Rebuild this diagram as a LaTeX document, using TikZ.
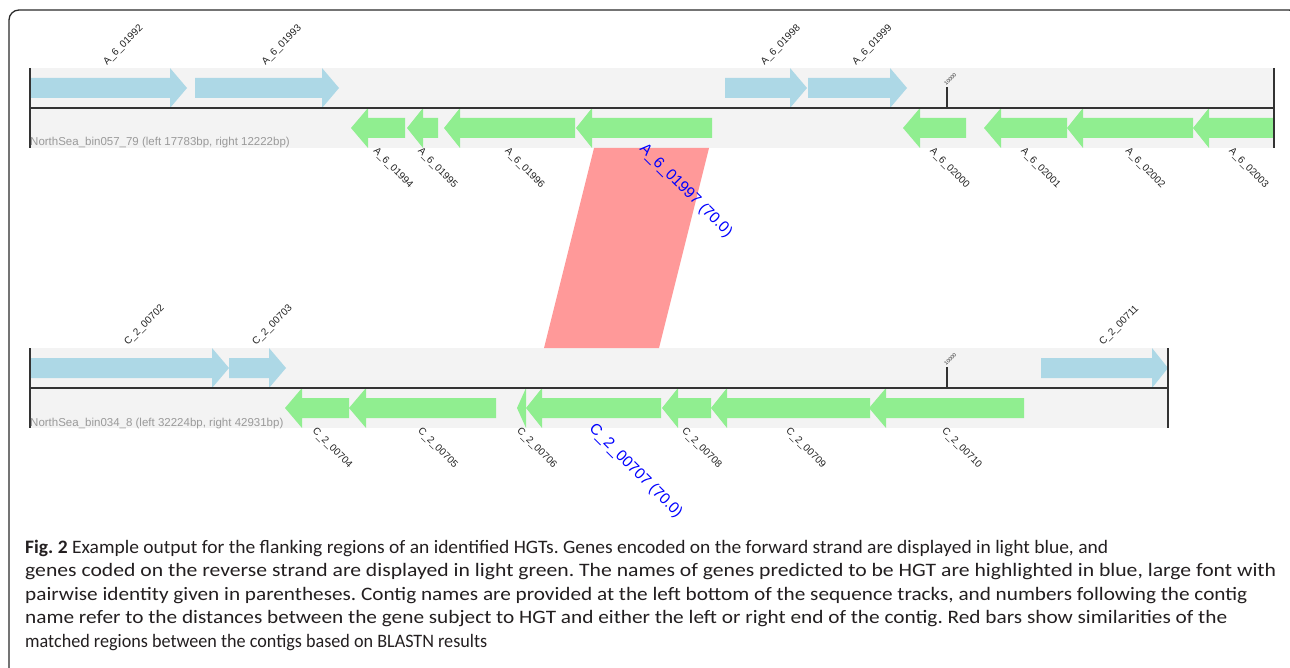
\documentclass[tikz,border=0pt]{standalone}
\usepackage{graphicx}
\usepackage{fontspec}
\setmainfont{Carlito}
\newfontfamily\genefont{Liberation Sans}
\frenchspacing

\definecolor{fwdblue}{HTML}{ADD8E6}
\definecolor{revgreen}{HTML}{90EE90}
\definecolor{bandgray}{HTML}{F3F3F3}
\definecolor{axisgray}{HTML}{333333}
\definecolor{labelgray}{HTML}{222222}
\definecolor{contiggray}{HTML}{9A9A9A}
\definecolor{hgtblue}{HTML}{0000FF}
\definecolor{matchred}{HTML}{FF9999}
\definecolor{captext}{HTML}{231F20}
\definecolor{framegray}{HTML}{2A2A2A}

% forward gene: name, start x, head base x, tip x, axis y, label
\newcommand\fgene[6]{%
  \fill[fwd] (#2,#5-30) -- (#3,#5-30) -- (#3,#5-40) -- (#4,#5-20) -- (#3,#5)
    -- (#3,#5-10) -- (#2,#5-10) -- cycle;
  \node[genelabel, rotate=45, anchor=south west] (#1) at ({(#2+#4)/2},#5-40.5) {#6};
}
% reverse gene: name, tip x, head base x, end x, axis y, label, label style
\newcommand\rgene[7]{%
  \fill[rev] (#4,#5+10) -- (#3,#5+10) -- (#3,#5) -- (#2,#5+20) -- (#3,#5+40)
    -- (#3,#5+30) -- (#4,#5+30) -- cycle;
  \node[#7, rotate=-45, anchor=north west] (#1) at ({(#2+#4)/2},#5+38) {#6};
}
% one caption line stretched to a given width
\newcommand\capline[2]{\resizebox{#1}{\height}{#2}}

\begin{document}
\begin{tikzpicture}[x=1pt,y=-1pt,
  fwd/.style={fill=fwdblue},
  rev/.style={fill=revgreen},
  band/.style={fill=bandgray},
  axisline/.style={draw=axisgray, line width=1.3pt},
  endline/.style={draw=axisgray, line width=1.5pt},
  genelabel/.style={font=\genefont\fontsize{10}{12}\selectfont, text=labelgray, inner sep=0.5pt},
  hgtlabel/.style={font=\genefont\fontsize{15.5}{18}\selectfont, text=hgtblue, inner sep=0.5pt, shift={(3,-5)}},
  ticklabel/.style={font=\genefont\fontsize{5.2}{6}\selectfont, text=labelgray, inner sep=0pt},
  contiglabel/.style={font=\genefont\fontsize{11.5}{13}\selectfont, text=contiggray, inner sep=0pt, anchor=base west},
  captionline/.style={font=\fontsize{19}{22}\selectfont, text=captext, inner sep=0pt, anchor=base west},
  frame/.style={draw=framegray, line width=1.3pt, rounded corners=10pt},
]
\useasboundingbox (0,0) rectangle (1290,668);
\clip (0,0) rectangle (1290,668);

% outer frame
\draw[frame] (9,690) -- (9,10) -- (1299,10) -- (1299,690);

% ---------- contig NorthSea_bin057_79 ----------
\fill[band] (30,68) rectangle (1274,148);
\fgene{a01992}{30}{170}{187}{108}{A\_6\_01992}
\fgene{a01993}{195}{322}{339}{108}{A\_6\_01993}
\fgene{a01998}{725}{790}{807}{108}{A\_6\_01998}
\fgene{a01999}{808}{890}{907}{108}{A\_6\_01999}
\rgene{a01994}{351}{368}{405}{108}{A\_6\_01994}{genelabel}
\rgene{a01995}{407}{423}{438}{108}{A\_6\_01995}{genelabel}
\rgene{a01996}{444}{460}{575}{108}{A\_6\_01996}{genelabel}
\rgene{a02000}{903}{920}{966}{108}{A\_6\_02000}{genelabel}
\rgene{a02001}{984}{1001}{1067}{108}{A\_6\_02001}{genelabel}
\rgene{a02002}{1067}{1083}{1193}{108}{A\_6\_02002}{genelabel}
\rgene{a02003}{1193}{1209}{1274}{108}{A\_6\_02003}{genelabel}
\draw[axisline] (30,108) -- (1274,108);
\draw[endline] (30,68) -- (30,148);
\draw[endline] (1274,68) -- (1274,148);
\draw[axisgray, line width=1.6pt] (947,108) -- (947,87);
\node[ticklabel, rotate=45, anchor=south west] (tickA) at (946.5,86) {10000};
\node[contiglabel] (contigA) at (30,146) {NorthSea\_bin057\_79 (left 17783bp, right 12222bp)};

% ---------- contig NorthSea_bin034_8 ----------
\fill[band] (30,348) rectangle (1168,428);
\fgene{c00702}{30}{212}{229}{388}{C\_2\_00702}
\fgene{c00703}{229}{269}{286}{388}{C\_2\_00703}
\fgene{c00711}{1041}{1152}{1168}{388}{C\_2\_00711}
\rgene{c00704}{285}{302}{349}{388}{C\_2\_00704}{genelabel}
\rgene{c00705}{349}{366}{496}{388}{C\_2\_00705}{genelabel}
\rgene{c00706}{517}{526}{526}{388}{C\_2\_00706}{genelabel}
\rgene{c00708}{662}{678}{711}{388}{C\_2\_00708}{genelabel}
\rgene{c00709}{711}{727}{870}{388}{C\_2\_00709}{genelabel}
\rgene{c00710}{869}{886}{1024}{388}{C\_2\_00710}{genelabel}
\draw[axisline] (30,388) -- (1168,388);
\draw[endline] (30,348) -- (30,428);
\draw[endline] (1168,348) -- (1168,428);
\draw[axisgray, line width=1.6pt] (947,388) -- (947,367);
\node[ticklabel, rotate=45, anchor=south west] (tickC) at (946.5,366) {10000};
\node[contiglabel] (contigC) at (30,426) {NorthSea\_bin034\_8 (left 32224bp, right 42931bp)};

% BLASTN match between the two HGT genes
\coordinate (mA-l) at (594,148);
\coordinate (mA-r) at (709,148);
\coordinate (mC-l) at (544,348);
\coordinate (mC-r) at (659,348);
\fill[matchred] (mA-l) -- (mA-r) -- (mC-r) -- (mC-l) -- cycle;

% HGT genes with highlighted labels
\rgene{a01997}{576}{592}{712}{108}{A\_6\_01997 (70.0)}{hgtlabel}
\rgene{c00707}{526}{542}{661}{388}{C\_2\_00707 (70.0)}{hgtlabel}
\draw[axisline] (576,108) -- (712,108);
\draw[axisline] (526,388) -- (661,388);

% caption
\node[captionline] (cap1) at (25,553) {\capline{1083pt}{\textbf{Fig. 2} Example output for the flanking regions of an identified HGTs. Genes encoded on the forward strand are displayed in light blue, and}};
\node[captionline] (cap2) at (25,576.5) {\capline{1251pt}{genes coded on the reverse strand are displayed in light green. The names of genes predicted to be HGT are highlighted in blue, large font with}};
\node[captionline] (cap3) at (25,600) {\capline{1222pt}{pairwise identity given in parentheses. Contig names are provided at the left bottom of the sequence tracks, and numbers following the contig}};
\node[captionline] (cap4) at (25,623.5) {\capline{1202pt}{name refer to the distances between the gene subject to HGT and either the left or right end of the contig. Red bars show similarities of the}};
\node[captionline] (cap5) at (25,647) {\capline{462pt}{matched regions between the contigs based on BLASTN results}};
\end{tikzpicture}
\end{document}
